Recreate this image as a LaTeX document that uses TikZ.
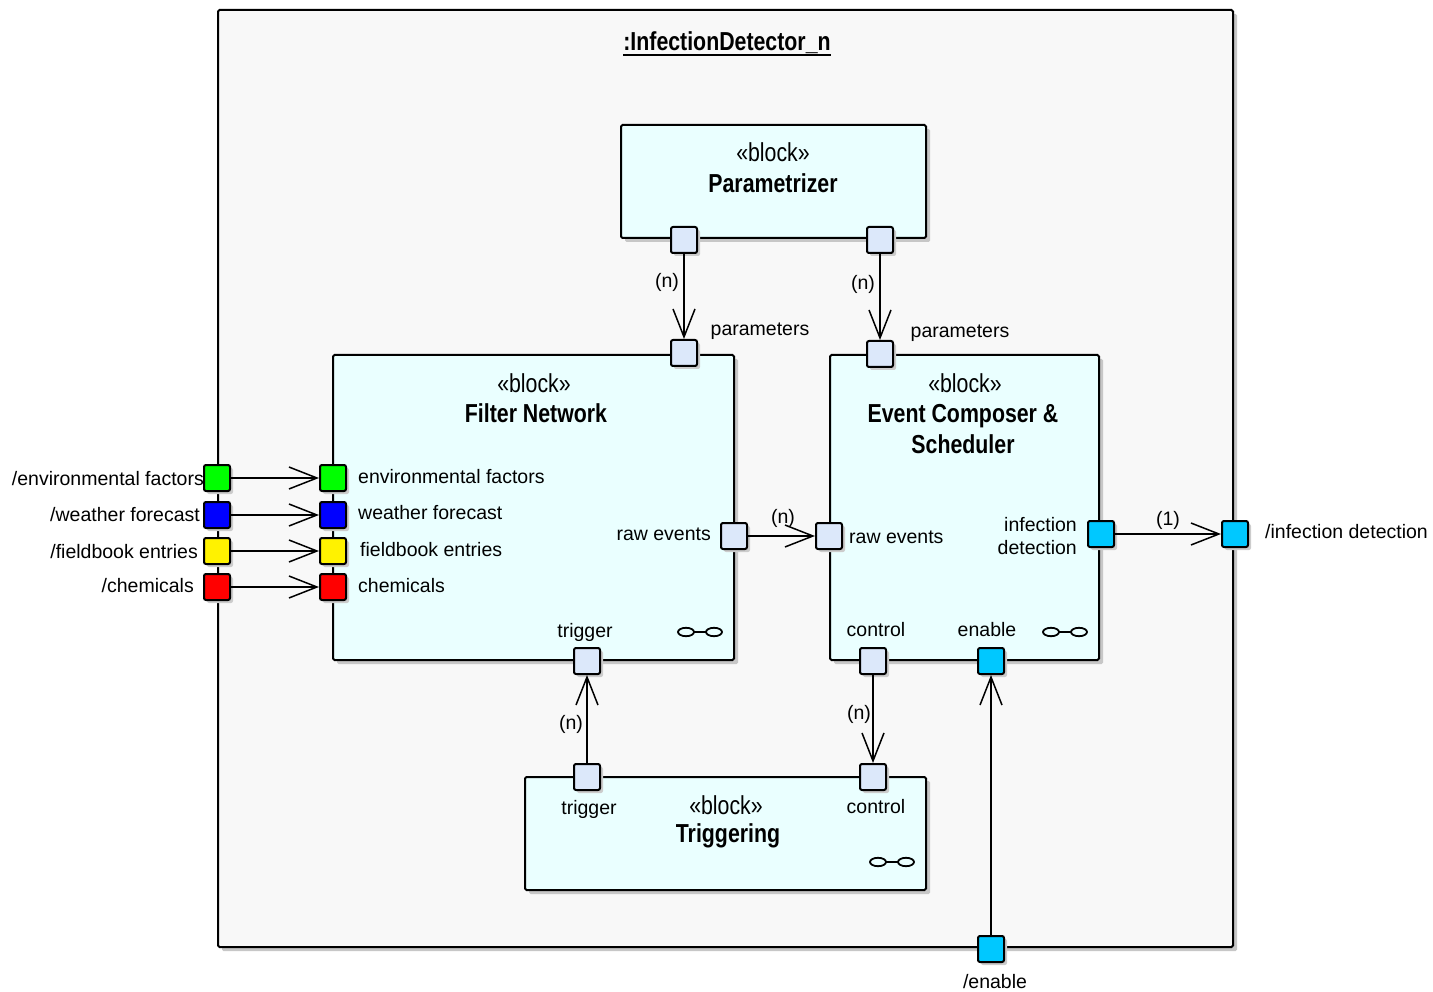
\documentclass[tikz,border=0pt]{standalone}
\usepackage{fontspec}
\setmainfont{Liberation Sans}
\newfontfamily\condf[FakeStretch=0.82]{Liberation Sans}
\usetikzlibrary{arrows.meta,shadows,calc}
\definecolor{framefill}{RGB}{248,248,248}
\definecolor{blkfill}{RGB}{234,255,255}
\definecolor{portfill}{RGB}{220,232,250}
\definecolor{cyanport}{RGB}{0,200,255}
\newcommand\lbl{\fontsize{19.5}{23}\selectfont}
\newcommand\ster{\condf\fontsize{26}{30}\selectfont}
\newcommand\bname{\condf\bfseries\fontsize{26}{31}\selectfont}
\tikzset{
  frm/.style={draw, line width=2pt, fill=framefill, rounded corners=1.5pt,
    drop shadow={shadow xshift=4pt, shadow yshift=-4pt, fill=black!22, opacity=1}},
  blk/.style={draw, line width=2pt, fill=blkfill, rounded corners=1.5pt, inner sep=0pt,
    drop shadow={shadow xshift=4pt, shadow yshift=-4pt, fill=black!22, opacity=1}},
  port/.style={draw, line width=2pt, rounded corners=2pt, minimum size=26pt, inner sep=0pt,
    fill=portfill, drop shadow={shadow xshift=3pt, shadow yshift=-3pt, fill=black!20, opacity=1}},
  arr/.style={line width=1.5pt, -{Straight Barb[length=28pt, width=22pt, line width=1.5pt]}},
  txt/.style={inner sep=0pt, font=\lbl, text=black},
  infsym/.style={line width=1.8pt},
}
\newcommand\decosym[1]{%
  \draw[infsym] ($#1+(-14,0)$) ellipse [x radius=8, y radius=4.2];
  \draw[infsym] ($#1+(14,0)$) ellipse [x radius=8, y radius=4.2];
  \draw[infsym] ($#1+(-6,0)$) -- ($#1+(6,0)$);}
\begin{document}
\begin{tikzpicture}[x=1pt,y=-1pt]
\useasboundingbox (0,0) rectangle (1433,992);
% frame
\node[frm, minimum width=1015pt, minimum height=937pt] (frame) at (725.5,478.5) {};
\node[inner sep=0pt, font=\condf\bfseries\fontsize{26}{30}\selectfont] (title) at (727,43) {:InfectionDetector\_n};
\draw[line width=2.2pt] ([yshift=-4pt]title.base west) -- ([yshift=-4pt]title.base east);
% blocks
\node[blk, minimum width=305pt, minimum height=113pt] (param) at (773.5,181.5) {};
\node[blk, minimum width=401pt, minimum height=305pt] (fn) at (533.5,507.5) {};
\node[blk, minimum width=269pt, minimum height=305pt] (ec) at (964.5,507.5) {};
\node[blk, minimum width=401pt, minimum height=113pt] (trig) at (725.5,833.5) {};
% block texts
\node[inner sep=0pt, font=\ster] (pster) at (773,152) {«block»};
\node[inner sep=0pt, font=\bname] (pname) at (773,183) {Parametrizer};
\node[inner sep=0pt, font=\ster] (fster) at (534,383) {«block»};
\node[inner sep=0pt, font=\bname] (fname) at (536,413) {Filter Network};
\node[inner sep=0pt, font=\ster] (ester) at (965,383) {«block»};
\node[inner sep=0pt, font=\bname, align=center] (ename) at (963,429) {Event Composer \&\\Scheduler};
\node[inner sep=0pt, font=\ster] (tster) at (726,805) {«block»};
\node[inner sep=0pt, font=\bname] (tname) at (728,836) {Triggering};
% ports
\node[port] (pp1) at (684,240) {};
\node[port] (pp2) at (880,240) {};
\node[port] (fnpar) at (684,353) {};
\node[port] (ecpar) at (880,354) {};
\node[port, fill=green] (fnenv) at (333,478) {};
\node[port, fill=blue] (fnwea) at (333,515) {};
\node[port, fill=yellow] (fnfld) at (333,551) {};
\node[port, fill=red] (fnchem) at (333,587) {};
\node[port, fill=green] (oenv) at (217,478) {};
\node[port, fill=blue] (owea) at (217,515) {};
\node[port, fill=yellow] (ofld) at (217,551) {};
\node[port, fill=red] (ochem) at (217,587) {};
\node[port] (fnraw) at (734,536) {};
\node[port] (ecraw) at (829,536) {};
\node[port, fill=cyanport] (ecinf) at (1101,534) {};
\node[port, fill=cyanport] (oinf) at (1235,534) {};
\node[port] (fntrig) at (587,661) {};
\node[port] (trtrig) at (587,777) {};
\node[port] (ecctl) at (873,661) {};
\node[port] (trctl) at (873,777) {};
\node[port, fill=cyanport] (ecen) at (991,661) {};
\node[port, fill=cyanport] (oen) at (991,949) {};
% connectors
\draw[arr] (pp1) -- (fnpar);
\draw[arr] (pp2) -- (ecpar);
\draw[arr] (oenv) -- (fnenv);
\draw[arr] (owea) -- (fnwea);
\draw[arr] (ofld) -- (fnfld);
\draw[arr] (ochem) -- (fnchem);
\draw[arr] (fnraw) -- (ecraw);
\draw[arr] (ecinf) -- (oinf);
\draw[arr] (trtrig) -- (fntrig);
\draw[arr] (ecctl) -- (trctl);
\draw[arr] (oen) -- (ecen);
% connector labels
\node[txt] (l1) at (667,282) {(n)};
\node[txt] (l2) at (863,284) {(n)};
\node[txt] (l3) at (783,518) {(n)};
\node[txt] (l4) at (1168,520) {(1)};
\node[txt] (l5) at (571,724) {(n)};
\node[txt] (l6) at (859,714) {(n)};
% port labels
\node[txt] (t1) at (760,331) {parameters};
\node[txt] (t2) at (960,333) {parameters};
\node[txt, anchor=west] (t3) at (358,477) {environmental factors};
\node[txt, anchor=west] (t4) at (358,513) {weather forecast};
\node[txt, anchor=west] (t5) at (360,550) {fieldbook entries};
\node[txt, anchor=west] (t6) at (358,586) {chemicals};
\node[txt, anchor=east] (t7) at (711,534) {raw events};
\node[txt, anchor=west] (t8) at (849,537) {raw events};
\node[txt, anchor=east, align=right] (t9) at (1077,536) {infection\\detection};
\node[txt] (t10) at (585,632) {trigger};
\node[txt] (t11) at (876,630) {control};
\node[txt] (t12) at (987,630) {enable};
\node[txt] (t13) at (589,809) {trigger};
\node[txt] (t14) at (876,807) {control};
\node[txt, anchor=east] (o1) at (204,479) {/environmental factors};
\node[txt, anchor=east] (o2) at (200,515) {/weather forecast};
\node[txt, anchor=east] (o3) at (198,552) {/fieldbook entries};
\node[txt, anchor=east] (o4) at (194,586) {/chemicals};
\node[txt, anchor=west] (o5) at (1265,532) {/infection detection};
\node[txt] (o6) at (995,982) {/enable};
% decomposition symbols
\decosym{(700,632)}
\decosym{(1065,632)}
\decosym{(892,862)}
\end{tikzpicture}
\end{document}
